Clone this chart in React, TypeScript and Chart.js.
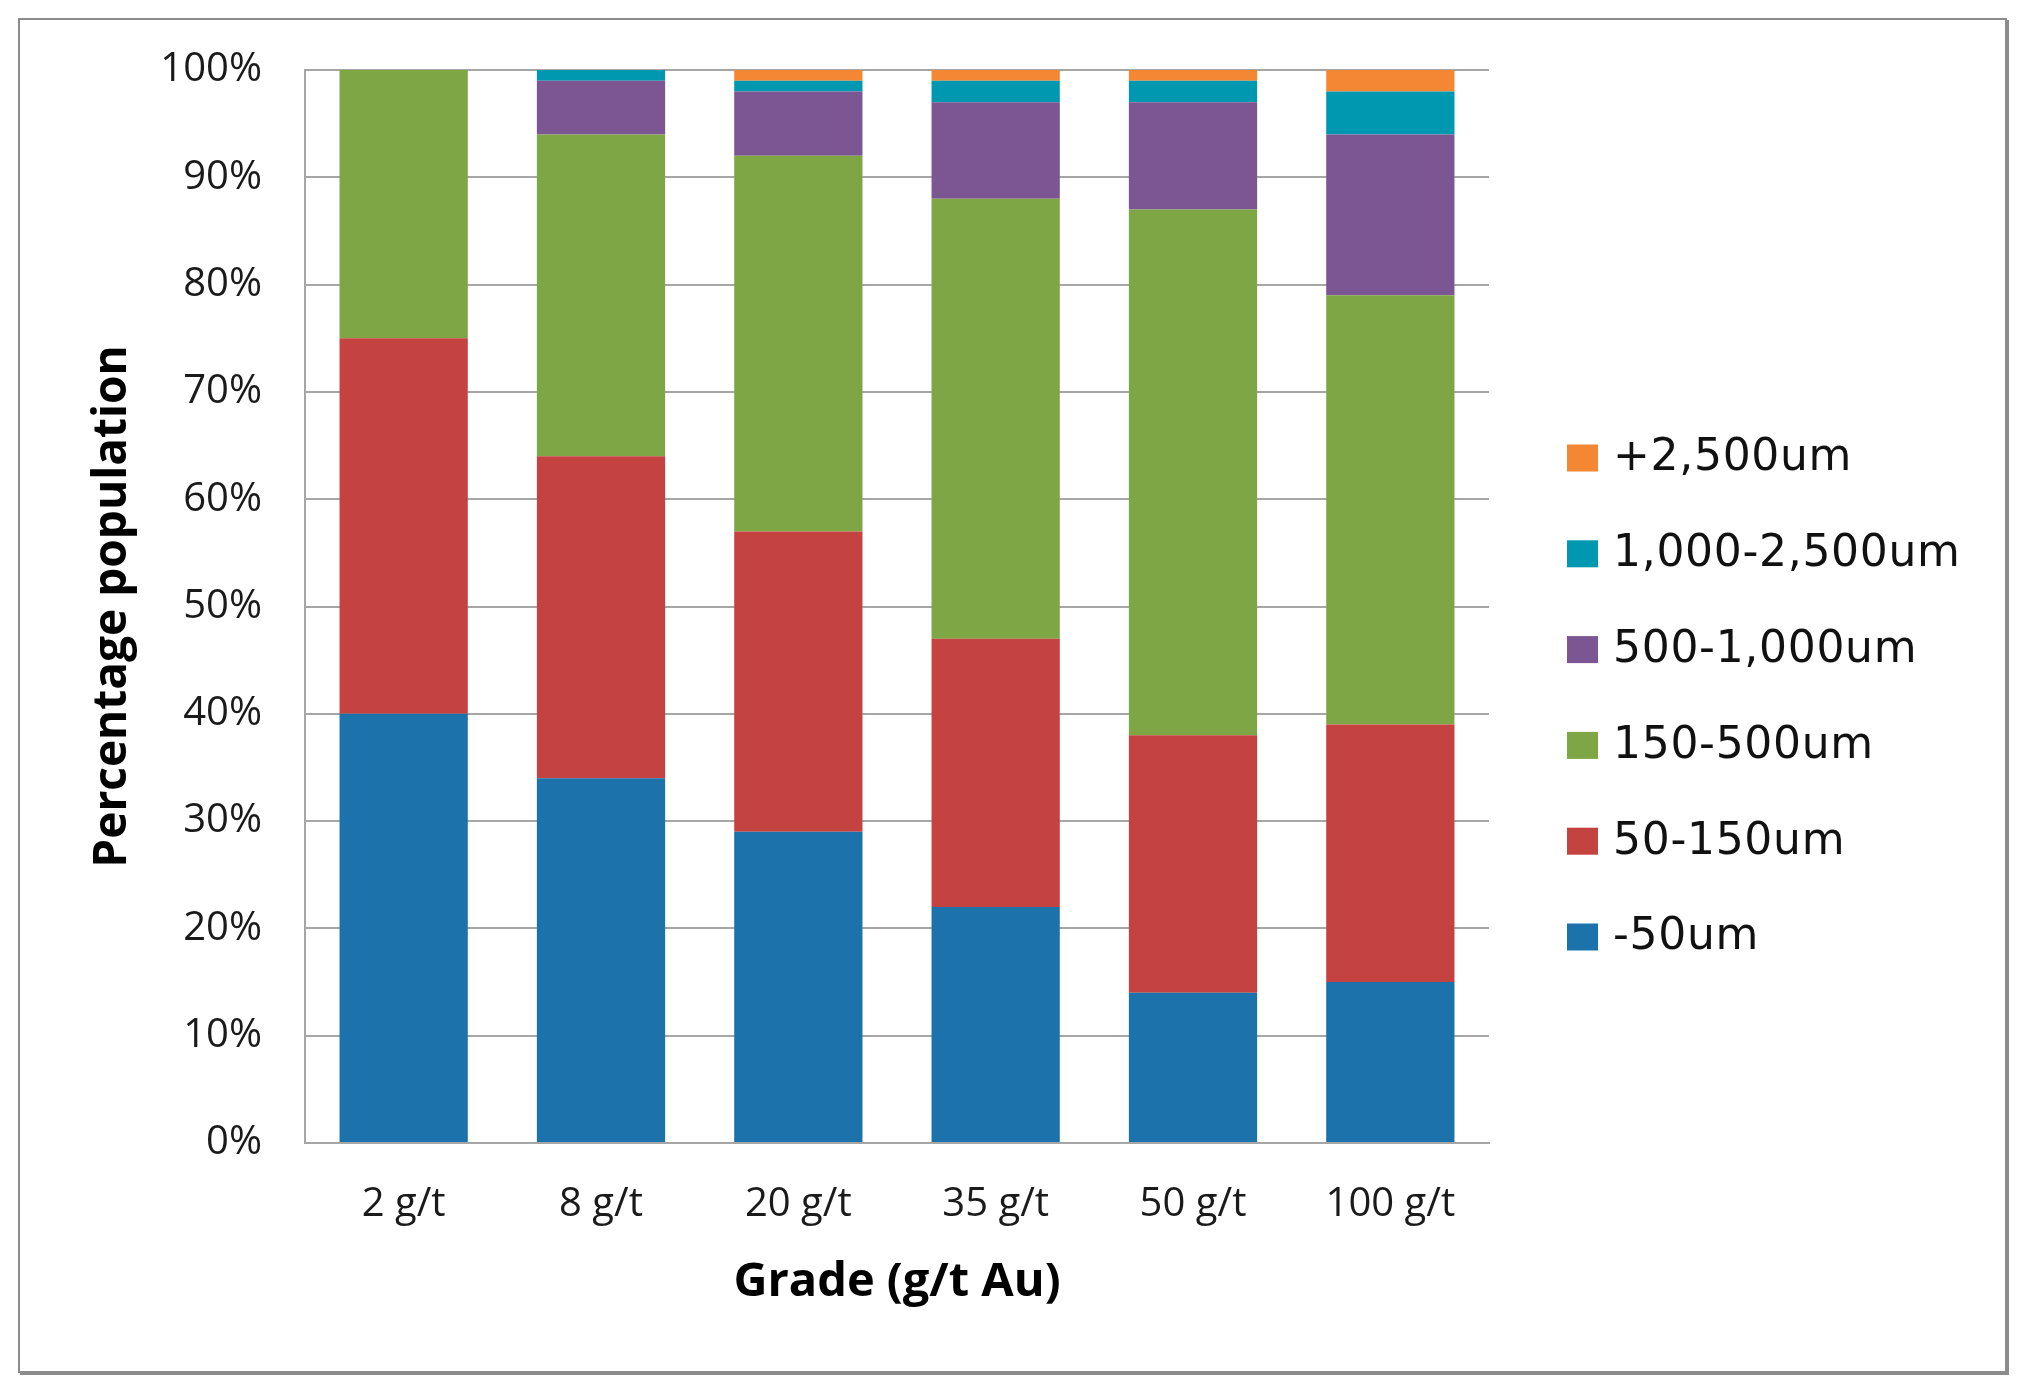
import { useEffect, useRef } from 'react';
import { Chart, registerables, Plugin } from 'chart.js';

Chart.register(...registerables);

const grades = ['2 g/t', '8 g/t', '20 g/t', '35 g/t', '50 g/t', '100 g/t'];

// percentage of particles per size class, bottom of the stack first
const under50um = [40, 34, 29, 22, 14, 15];
const from50to150um = [35, 30, 28, 25, 24, 24];
const from150to500um = [25, 30, 35, 41, 49, 40];
const from500to1000um = [0, 5, 6, 9, 10, 15];
const from1000to2500um = [0, 1, 1, 2, 2, 4];
const over2500um = [0, 0, 1, 1, 1, 2];

const sizeLabels = ['-50um', '50-150um', '150-500um', '500-1,000um', '1,000-2,500um', '+2,500um'];
const sizeColors = ['#1c72aa', '#c44340', '#7ea645', '#7c5692', '#0098b0', '#f48733'];

const gridGrey = '#a6a6a6';

// legend drawn to the right of the plot, top item = last dataset
const sideLegend: Plugin<'bar'> = {
  id: 'sideLegend',
  afterDraw(chart) {
    const { ctx, chartArea } = chart;
    const items = chart.data.datasets
      .map(ds => ({ label: String(ds.label), color: String(ds.backgroundColor) }))
      .reverse();
    ctx.save();
    ctx.font = '44px "DejaVu Sans"';
    (ctx as any).letterSpacing = '0.7px';
    ctx.textBaseline = 'middle';
    items.forEach((item, k) => {
      const x = chartArea.right + 78;
      const y = chartArea.top + 388 + k * 95.8;
      ctx.fillStyle = item.color;
      ctx.fillRect(x, y - 13.5, 31, 27);
      ctx.fillStyle = '#111';
      ctx.fillText(item.label, x + 46, y + 1);
    });
    ctx.restore();
  },
};

export default function App() {
  const canvasRef = useRef<HTMLCanvasElement>(null);

  useEffect(() => {
    if (!canvasRef.current) return;

    const series = [under50um, from50to150um, from150to500um, from500to1000um, from1000to2500um, over2500um];

    const chart = new Chart(canvasRef.current, {
      type: 'bar',
      data: {
        labels: grades,
        datasets: series.map((values, i) => ({
          label: sizeLabels[i],
          data: values,
          backgroundColor: sizeColors[i],
          borderWidth: 0,
          barPercentage: 0.65,
          categoryPercentage: 1,
        })),
      },
      options: {
        animation: false,
        responsive: true,
        maintainAspectRatio: false,
        layout: { padding: { left: 49, right: 516, top: 50, bottom: 60 } },
        plugins: {
          legend: { display: false },
          tooltip: { enabled: false },
        },
        scales: {
          x: {
            stacked: true,
            grid: { display: false, drawTicks: false },
            border: { display: true, color: gridGrey, width: 2 },
            ticks: {
              padding: 38,
              color: '#1a1a1a',
              font: { family: 'Open Sans', size: 40 },
            },
            title: {
              display: true,
              text: 'Grade (g/t Au)',
              color: '#000',
              font: { family: 'Open Sans', size: 47, weight: 'bold' },
              padding: 0,
            },
            afterFit: scale => {
              scale.height = 168;
            },
          },
          y: {
            stacked: true,
            min: 0,
            max: 100,
            grid: { color: gridGrey, lineWidth: 2, drawTicks: false },
            border: { display: true, color: gridGrey, width: 2 },
            ticks: {
              stepSize: 10,
              padding: 43,
              color: '#1a1a1a',
              font: { family: 'Open Sans', size: 40 },
              callback: value => value + '%',
            },
            title: {
              display: true,
              text: 'Percentage population',
              color: '#000',
              font: { family: 'Open Sans', size: 46, weight: 'bold' },
              padding: { top: 16, bottom: 0 },
            },
            afterFit: scale => {
              scale.width = 236;
              scale.paddingTop = 0;
              scale.paddingBottom = 0;
            },
          },
        },
      },
      plugins: [sideLegend],
    });

    return () => {
      chart.destroy();
    };
  }, []);

  return (
    <div style={{ padding: 10 }}>
      <div
        style={{
          boxSizing: 'border-box',
          width: 1989,
          height: 1355,
          border: '2px solid #8c8c8c',
          boxShadow: '2px 2px 0 #8c8c8c',
          background: '#fff',
        }}
      >
        <div style={{ position: 'relative', width: 1985, height: 1351 }}>
          <canvas ref={canvasRef} />
        </div>
      </div>
    </div>
  );
}
